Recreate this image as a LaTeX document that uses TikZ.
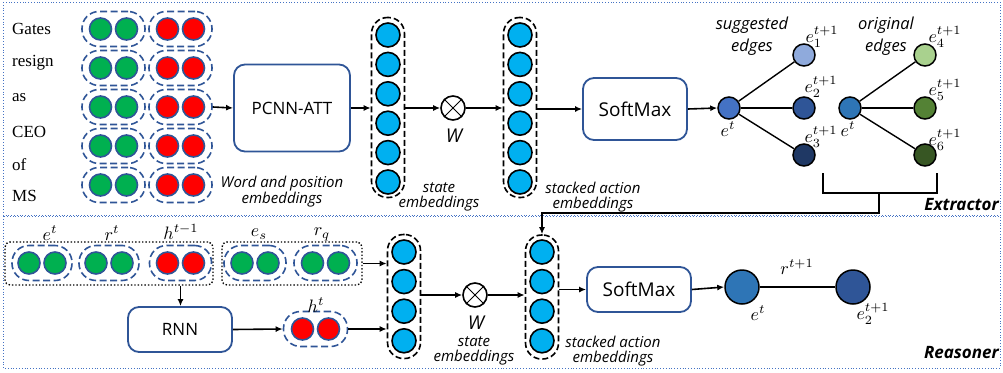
\documentclass[tikz,border=0pt]{standalone}
\usepackage{fontspec}
\usepackage{graphicx}
\setmainfont{Liberation Serif}
\newfontfamily\osans{Open Sans}
\usetikzlibrary{arrows.meta,calc}
\definecolor{capblue}{HTML}{2F5597}
\definecolor{gfill}{HTML}{00B050}
\definecolor{rfill}{HTML}{FF0000}
\definecolor{cfill}{HTML}{00B0F0}
\definecolor{frameblue}{HTML}{4472C4}
\definecolor{nA}{HTML}{4472C4}
\definecolor{nB}{HTML}{2E75B6}
\definecolor{eone}{HTML}{8FAADC}
\definecolor{etwo}{HTML}{2F5597}
\definecolor{ethree}{HTML}{1F3864}
\definecolor{efour}{HTML}{A9D18E}
\definecolor{efive}{HTML}{548235}
\definecolor{esix}{HTML}{375623}

% math labels, enlarged from the 10pt math fonts
\newcommand{\ml}[1]{\scalebox{1.8}{$#1$}}

\tikzset{
  frame/.style={draw=frameblue, dotted, line width=0.8pt},
  groupbox/.style={draw=black, dotted, line width=1.4pt, rounded corners=5pt},
  capsule/.style={draw=capblue, dashed, dash pattern=on 7pt off 3.5pt, line width=1.6pt,
    rectangle, rounded corners=17pt, minimum width=63pt, minimum height=35pt, inner sep=0pt},
  unit/.style={circle, draw=capblue, line width=1.6pt, minimum size=22pt, inner sep=0pt},
  gunit/.style={unit, fill=gfill},
  runit/.style={unit, fill=rfill},
  column/.style={draw=black, dashed, dash pattern=on 6pt off 3pt, line width=1.6pt,
    rectangle, rounded corners=16pt, minimum width=33pt, inner sep=0pt},
  cunit/.style={circle, draw=black, line width=1.6pt, fill=cfill, minimum size=24pt, inner sep=0pt},
  procbox/.style={draw=capblue, line width=1.8pt, rounded corners=11pt, fill=white,
    font=\osans\fontsize{17}{17}\selectfont},
  smbox/.style={procbox, font=\osans\fontsize{19}{19}\selectfont},
  arr/.style={-{Latex[length=7pt,width=6pt]}, line width=1.6pt},
  mult/.style={circle, draw=black, line width=1.6pt, fill=white, minimum size=24pt, inner sep=0pt},
  word/.style={font=\fontsize{17}{17}\selectfont, anchor=west, inner sep=0pt},
  note/.style={font=\osans\itshape\fontsize{15}{14.5}\selectfont, align=center, inner sep=0pt},
  edgenote/.style={font=\osans\itshape\fontsize{16.5}{22}\selectfont, align=center, inner sep=0pt},
  wlab/.style={font=\osans\itshape\fontsize{19}{19}\selectfont, inner sep=0pt},
  mlab/.style={inner sep=0pt},
  ent/.style={circle, draw=black, line width=1.5pt, minimum size=22pt, inner sep=0pt},
  bigent/.style={circle, draw=black, line width=1.5pt, minimum size=34pt, inner sep=0pt},
  edge/.style={line width=1.4pt},
  title/.style={font=\osans\bfseries\itshape\fontsize{17}{17}\selectfont, anchor=east, inner sep=0pt},
}

% two-unit embedding: capsule with two circles
\newcommand{\embpair}[4]{%
  \node[capsule, minimum width=#4] (#1) at (#2) {};
  \node[#3] (#1-a) at ($(#1)+(-13,0)$) {};
  \node[#3] (#1-b) at ($(#1)+(13,0)$) {};}

\begin{document}
\begin{tikzpicture}[x=1pt,y=-1pt]
\useasboundingbox (0,0) rectangle (1003,372);

% panels
\draw[frame] (3,2) rectangle (1000,215);
\draw[frame] (3,216) rectangle (1000,368);
\node[title] (extr) at (999,205) {Extractor};
\node[title] (reas) at (999,353) {Reasoner};

% ---------------- Extractor ----------------
\node[word] (w1) at (12,29) {Gates};
\node[word] (w2) at (12,63) {resign};
\node[word] (w3) at (12,98) {as};
\node[word] (w4) at (12,132) {CEO};
\node[word] (w5) at (12,165) {of};
\node[word] (w6) at (12,196) {MS};

\foreach \i/\y in {1/29,2/68,3/107,4/146,5/185}{
  \embpair{wg\i}{113.5,\y}{gunit}{63pt}
  \embpair{wr\i}{180.5,\y}{runit}{63pt}
}

\node[procbox, minimum width=116pt, minimum height=87pt] (pcnn) at (292,108) {PCNN-ATT};
\node[note] (wpe) at (282,192) {Word and position\\embeddings};
\draw[arr] (wr3.east) -- (pcnn.west);

% state embedding column
\node[column, minimum height=180pt] (sc) at (388,107.5) {};
\foreach \i in {0,...,5}{ \node[cunit] (sc\i) at (388,35+\i*29.4) {}; }
\node[note] (sclab) at (439,197) {state\\embeddings};
\draw[arr] (pcnn.east) -- (pcnn.east -| sc.west);

\node[mult] (m1) at (453,108) {};
\draw[line width=1pt] (m1.north west) -- (m1.south east) (m1.north east) -- (m1.south west);
\node[wlab] (w1lab) at (454,136) {W};
\draw[arr] (sc.east |- m1) -- (m1.west);

% stacked action column
\node[column, minimum height=180pt] (ac) at (520,107.5) {};
\foreach \i in {0,...,5}{ \node[cunit] (ac\i) at (520,35+\i*29.4) {}; }
\node[note] (aclab) at (593,197) {stacked action\\embeddings};
\draw[arr] (m1.east) -- (m1.east -| ac.west);

\node[smbox, minimum width=104pt, minimum height=62pt] (sm1) at (635,109) {SoftMax};
\draw[arr] (ac.east |- sm1) -- (sm1.west);

% suggested edges
\node[ent, fill=nA] (et1) at (729,108) {};
\draw[arr] (sm1.east) -- (et1.west);
\node[ent, fill=eone] (e1) at (804,55) {};
\node[ent, fill=etwo] (e2) at (804,108) {};
\node[ent, fill=ethree] (e3) at (804,155) {};
\draw[edge] (et1) -- (e1);
\draw[edge] (et1) -- (e2);
\draw[edge] (et1) -- (e3);
\node[mlab] (et1lab) at (728,129) {\ml{e^{t}}};
\node[mlab] (e1lab) at (822,37) {\ml{e_1^{t+1}}};
\node[mlab] (e2lab) at (821,87) {\ml{e_2^{t+1}}};
\node[mlab] (e3lab) at (821,137) {\ml{e_3^{t+1}}};
\node[edgenote] (sugg) at (752,36) {suggested\\edges};

% original edges
\node[ent, fill=nB] (et2) at (850,108) {};
\node[ent, fill=efour] (e4) at (925,55) {};
\node[ent, fill=efive] (e5) at (925,108) {};
\node[ent, fill=esix] (e6) at (925,155) {};
\draw[edge] (et2) -- (e4);
\draw[edge] (et2) -- (e5);
\draw[edge] (et2) -- (e6);
\node[mlab] (et2lab) at (848,129) {\ml{e^{t}}};
\node[mlab] (e4lab) at (945,37) {\ml{e_4^{t+1}}};
\node[mlab] (e5lab) at (945,90) {\ml{e_5^{t+1}}};
\node[mlab] (e6lab) at (945,140) {\ml{e_6^{t+1}}};
\node[edgenote] (orig) at (886,36) {original\\edges};

% bracket joining both edge sets
\coordinate (bl) at (823,173);
\coordinate (br) at (937,173);
\coordinate (bm) at (879,193);
\draw[line width=1.8pt] (bl) -- (bl |- bm) -- (br |- bm) -- (br);
\coordinate (turn) at (879,213);

% ---------------- Reasoner ----------------
\node[groupbox, minimum width=208pt, minimum height=43pt] (g1) at (109,263.5) {};
\node[groupbox, minimum width=140pt, minimum height=43pt] (g2) at (292,263.5) {};

\embpair{pe}{42,263}{gunit}{60pt}
\embpair{pr}{109,263}{gunit}{60pt}
\embpair{ph}{180.5,263}{runit}{62pt}
\embpair{ps}{255,263}{gunit}{62pt}
\embpair{pq}{325.5,263}{gunit}{63pt}
\node[mlab] (pelab) at (50,233) {\ml{e^{t}}};
\node[mlab] (prlab) at (112,233) {\ml{r^{t}}};
\node[mlab] (phlab) at (181,232) {\ml{h^{t-1}}};
\node[mlab] (pslab) at (259,234) {\ml{e_{s}}};
\node[mlab] (pqlab) at (322,234) {\ml{r_{q}}};

\node[procbox, minimum width=104pt, minimum height=45pt] (rnn) at (180,329.5) {RNN};
\draw[arr] (g1.south -| ph) -- (rnn.north -| ph);

\embpair{ht}{315.5,329}{runit}{64pt}
\node[mlab] (htlab) at (316,305) {\ml{h^{t}}};
\draw[arr] (rnn.east) -- (ht.west);

% reasoner state column
\node[column, minimum height=124pt] (rsc) at (404,296.5) {};
\foreach \i in {0,...,3}{ \node[cunit] (rsc\i) at (404,252+\i*29.6) {}; }
\draw[arr] (g2.east) -- (g2.east -| rsc.west);
\draw[arr] (ht.east) -- (ht.east -| rsc.west);
\node[note] (rsclab) at (474,351) {state\\embeddings};

\node[mult] (m2) at (475,295) {};
\draw[line width=1pt] (m2.north west) -- (m2.south east) (m2.north east) -- (m2.south west);
\node[wlab] (w2lab) at (476,323) {W};
\draw[arr] (rsc.east |- m2) -- (m2.west);

% reasoner stacked action column
\node[column, minimum height=124pt] (rac) at (542,297) {};
\foreach \i in {0,...,3}{ \node[cunit] (rac\i) at (542,252+\i*29.6) {}; }
\draw[arr] (m2.east) -- (m2.east -| rac.west);
\node[note] (raclab) at (613,351) {stacked action\\embeddings};

\node[smbox, minimum width=104pt, minimum height=45pt] (sm2) at (639,289.5) {SoftMax};
\draw[arr] (rac.east |- sm2) -- (sm2.west);

\node[bigent, fill=nB] (ret) at (742,287) {};
\node[bigent, fill=etwo] (re2) at (853,287) {};
\draw[arr] (sm2.east) -- (ret.west);
\draw[edge] (ret) -- (re2);
\node[mlab] (rlab) at (797,267) {\ml{r^{t+1}}};
\node[mlab] (retlab) at (758,313) {\ml{e^{t}}};
\node[mlab] (re2lab) at (873,314) {\ml{e_2^{t+1}}};

% extractor output feeds the reasoner's action column
\draw[arr] (bm) -- (turn) -- (turn -| rac) -- (rac.north);
\end{tikzpicture}
\end{document}
